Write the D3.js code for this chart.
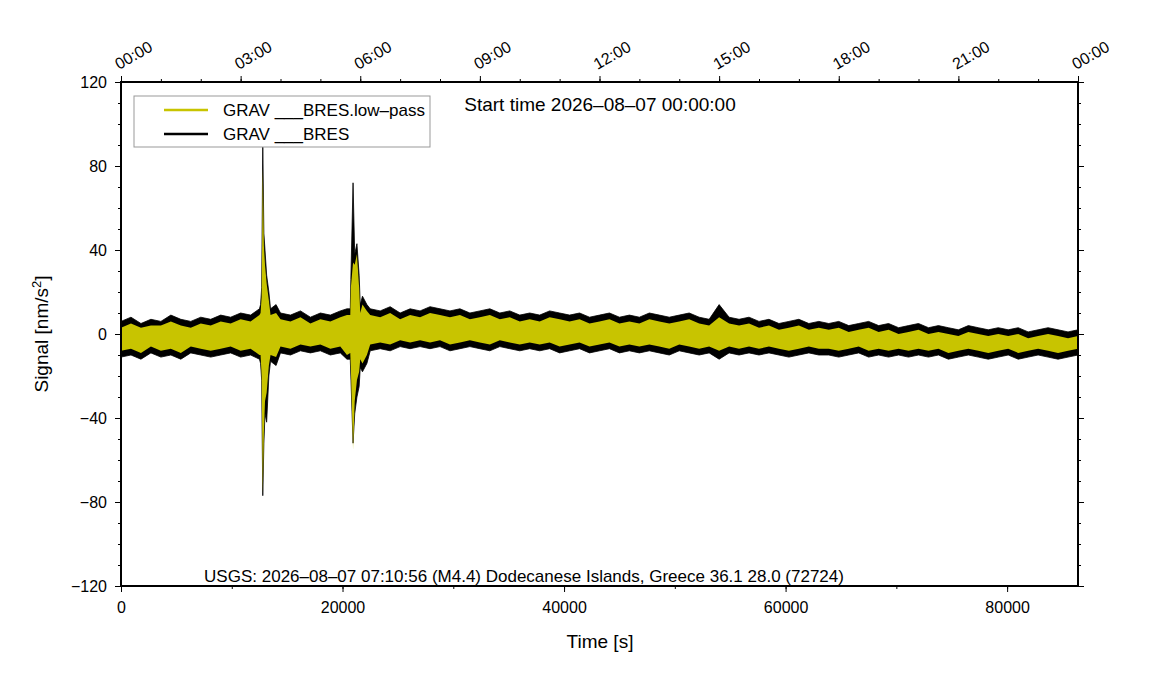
<!DOCTYPE html>
<html><head><meta charset="utf-8">
<script src="https://cdn.jsdelivr.net/npm/d3@7"></script>
<style>body{margin:0;background:#fff;font-family:"Liberation Sans",Arial,sans-serif}</style>
</head><body><div id="viz"></div>
<script>
const margin = {top: 82, right: 73, bottom: 114, left: 121};
const width = 1151, height = 700;

// envelope samples every 900 s (index i -> t = 900*i)
const blackHi = [6,8,5,7,6,9,7,6,8,7,9, 8,10,9,14,12,10,9,11,8,10, 9,11,12,14,12,11,13,10,12,11,
  13,12,11,12,10,11,12,10,11,9, 10,9,11,10,9,10,8,9,10,8, 9,8,10,9,8,9,10,8,7,14,
  8,7,8,6,7,5,6,7,5,6, 5,6,4,5,6,4,5,3,4,5, 3,4,3,2,4,3,2,3,2,3,1,2,3,2,1,2];
const blackLo = [-11,-10,-12,-9,-11,-10,-12,-9,-10,-11,-10, -9,-11,-10,-14,-13,-9,-10,-8,-9,-8,
  -10,-9,-12,-16,-8,-7,-8,-6,-7,-6, -7,-6,-8,-7,-6,-7,-8,-6,-7,-8, -7,-8,-7,-9,-8,-7,-9,-8,-7,-9,
  -8,-9,-8,-9,-10,-8,-9,-10,-9,-12, -9,-10,-9,-10,-9,-10,-11,-10,-9,-10, -10,-11,-10,-9,-11,-10,-11,-10,-11,-10,
  -11,-10,-12,-11,-10,-11,-12,-11,-10,-12,-11,-10,-11,-12,-11,-10];
const yelHi = [3,5,3,4,4,6,4,3,5,4,6, 5,7,6,10,9,7,6,8,5,7, 6,8,9,10,9,8,10,7,9,8,
  10,9,8,9,7,8,9,7,8,6, 7,6,8,7,6,7,5,6,7,5, 6,5,7,6,5,6,7,5,4,8,
  5,4,5,3,4,2,3,4,2,3, 2,3,1,2,3,1,2,0,1,2, 0,1,0,-1,1,0,-1,0,-1,0,-2,-1,0,-1,-2,-1];
const yelLo = [-8,-7,-9,-6,-8,-7,-9,-6,-7,-8,-7, -6,-8,-7,-10,-10,-6,-7,-5,-6,-5,
  -7,-6,-9,-12,-5,-4,-5,-3,-4,-3, -4,-3,-5,-4,-3,-4,-5,-3,-4,-5, -4,-5,-4,-6,-5,-4,-6,-5,-4,-6,
  -5,-6,-5,-6,-7,-5,-6,-7,-6,-8, -6,-7,-6,-7,-6,-7,-8,-7,-6,-7, -7,-8,-7,-6,-8,-7,-8,-7,-8,-7,
  -8,-7,-9,-8,-7,-8,-9,-8,-7,-9,-8,-7,-8,-9,-8,-7];

// extra samples around the two arrivals
const spikeTimes   = [12500,12700,12800,12900,13000,13150,13350,14000, 20400,20750,20950,21100,21300,21500,21800,22200];
const spikeBlackHi = [12,22,90,48,40,28,20,14, 12,26,72,38,43,28,18,14];
const spikeBlackLo = [-12,-22,-77,-52,-38,-42,-20,-15, -12,-20,-52,-38,-30,-25,-18,-14];
const spikeYelHi   = [9,18,79,42,33,24,16,10, 9,22,34,33,38,22,14,11];
const spikeYelLo   = [-10,-20,-76,-47,-32,-28,-15,-11, -10,-16,-55,-32,-22,-18,-14,-10];

const yTicks = [-120,-80,-40,0,40,80,120];
const xTicks = [0,20000,40000,60000,80000];
const hourLabels = ['00:00','03:00','06:00','09:00','12:00','15:00','18:00','21:00','00:00'];

const rows = blackHi.map((v, i) => ({t: 900 * i, bh: v, bl: blackLo[i], yh: yelHi[i], yl: yelLo[i]}))
  .concat(spikeTimes.map((t, i) => ({t, bh: spikeBlackHi[i], bl: spikeBlackLo[i], yh: spikeYelHi[i], yl: spikeYelLo[i]})))
  .sort((a, b) => a.t - b.t);

const x = d3.scaleLinear().domain([0, 86400]).range([margin.left, width - margin.right]);
const y = d3.scaleLinear().domain([-120, 120]).range([height - margin.bottom, margin.top]);

const svg = d3.select('#viz').append('svg').attr('width', width).attr('height', height)
  .style('font-family', '"Liberation Sans", Arial, sans-serif');

svg.append('clipPath').attr('id', 'c').append('rect')
  .attr('x', x(0)).attr('y', y(120)).attr('width', x(86400) - x(0)).attr('height', y(-120) - y(120));
const plot = svg.append('g').attr('clip-path', 'url(#c)');

const band = (hi, lo) => d3.area().x(d => x(d.t)).y0(d => y(d[lo])).y1(d => y(d[hi]))(rows);

plot.append('path').attr('d', band('bh', 'bl')).attr('fill', '#000').attr('stroke', '#000').attr('stroke-width', 0.8);
plot.append('path').attr('d', band('yh', 'yl')).attr('fill', '#c8c400');

// axes
const fmt = v => v < 0 ? '\u2212' + Math.abs(v) : String(v);
svg.append('g').attr('transform', `translate(${margin.left},0)`)
  .call(d3.axisLeft(y).tickValues(yTicks).tickFormat(fmt).tickSize(6).tickPadding(8))
  .call(g => g.select('.domain').remove()).style('font-size', '16px');
svg.append('g').attr('transform', `translate(${margin.left},0)`)
  .call(d3.axisLeft(y).tickValues(d3.range(-120, 121, 10)).tickFormat('').tickSize(3))
  .call(g => g.select('.domain').remove());
svg.append('g').attr('transform', `translate(${width - margin.right},0)`)
  .call(d3.axisRight(y).tickValues(yTicks).tickFormat('').tickSize(6))
  .call(g => g.select('.domain').remove());
svg.append('g').attr('transform', `translate(${width - margin.right},0)`)
  .call(d3.axisRight(y).tickValues(d3.range(-120, 121, 10)).tickFormat('').tickSize(3))
  .call(g => g.select('.domain').remove());
svg.append('g').attr('transform', `translate(0,${height - margin.bottom})`)
  .call(d3.axisBottom(x).tickValues(xTicks).tickFormat(d3.format('d')).tickSize(6).tickPadding(10))
  .call(g => g.select('.domain').remove()).style('font-size', '16px');
svg.append('g').attr('transform', `translate(0,${height - margin.bottom})`)
  .call(d3.axisBottom(x).tickValues(d3.range(0, 86401, 10000)).tickFormat('').tickSize(3))
  .call(g => g.select('.domain').remove());
svg.append('g').attr('transform', `translate(0,${margin.top})`)
  .call(d3.axisTop(x).tickValues(hourLabels.map((h, i) => i * 10800)).tickFormat('').tickSize(6))
  .call(g => g.select('.domain').remove());
svg.append('g').attr('transform', `translate(0,${margin.top})`)
  .call(d3.axisTop(x).tickValues(d3.range(0, 86401, 3600)).tickFormat('').tickSize(3))
  .call(g => g.select('.domain').remove());
svg.selectAll('.tick line').attr('stroke', '#000');

svg.selectAll('text.hour').data(hourLabels).join('text').attr('class', 'hour')
  .attr('transform', (d, i) => `translate(${x(i * 10800) - 2},${margin.top - 12}) rotate(-30)`)
  .attr('font-size', 16).text(d => d);

svg.append('rect').attr('x', x(0)).attr('y', y(120)).attr('width', x(86400) - x(0)).attr('height', y(-120) - y(120))
  .attr('fill', 'none').attr('stroke', '#000').attr('stroke-width', 2);

// labels
svg.append('text').attr('x', 600).attr('y', 648).attr('text-anchor', 'middle').attr('font-size', 19).text('Time [s]');
const yl = svg.append('text').attr('transform', 'translate(48,334) rotate(-90)').attr('text-anchor', 'middle').attr('font-size', 19);
yl.append('tspan').text('Signal [nm/s');
yl.append('tspan').attr('font-size', 13).attr('dy', -7).text('2');
yl.append('tspan').attr('dy', 7).text(']');
svg.append('text').attr('x', 600).attr('y', 111).attr('text-anchor', 'middle').attr('font-size', 19).text('Start time 2026\u201308\u201307 00:00:00');
svg.append('text').attr('x', 524).attr('y', 582).attr('text-anchor', 'middle').attr('font-size', 17)
  .text('USGS: 2026\u201308\u201307 07:10:56 (M4.4) Dodecanese Islands, Greece 36.1 28.0 (72724)');

// legend
const lg = svg.append('g');
lg.append('rect').attr('x', 134).attr('y', 96).attr('width', 296).attr('height', 51).attr('fill', '#fff').attr('stroke', '#999');
[{label: 'GRAV ___BRES.low\u2013pass', color: '#c8c400'}, {label: 'GRAV ___BRES', color: '#000'}].forEach((d, i) => {
  const yy = 110 + i * 24;
  lg.append('line').attr('x1', 164).attr('x2', 208).attr('y1', yy).attr('y2', yy).attr('stroke', d.color).attr('stroke-width', 2.5);
  lg.append('text').attr('x', 223).attr('y', yy + 6).attr('font-size', 17).text(d.label);
});
</script></body></html>
